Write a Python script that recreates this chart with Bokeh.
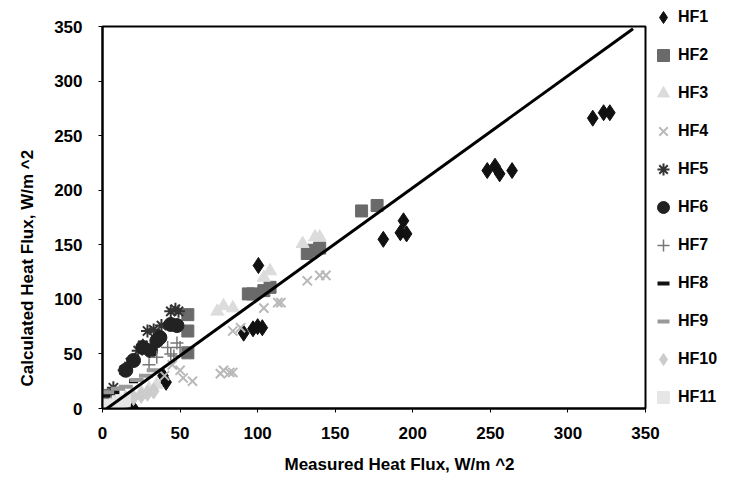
from bokeh.plotting import figure
from bokeh.models import Range1d, FixedTicker, Legend, LegendItem, Title
from bokeh.embed import file_html
from bokeh.resources import INLINE

# ---- data ----
series_names = ["HF1", "HF2", "HF3", "HF4", "HF5", "HF6", "HF7", "HF8", "HF9", "HF10", "HF11"]

hf1_x = [20, 39, 41, 91, 97, 100, 103, 100.5, 181, 192, 194, 196, 248, 253, 256, 264, 316, 323, 327]
hf1_y = [0, 30, 24, 69, 73, 75, 74, 131, 155, 161, 172, 160, 218, 222, 215, 218, 266, 271, 271]

hf2_x = [2, 55, 55, 55, 94, 97, 104, 108, 132, 136, 140, 167, 177]
hf2_y = [12, 51, 71, 86, 105, 105, 108, 111, 142, 145, 147, 181, 186]

hf3_x = [5, 15, 25, 30, 35, 74, 78, 84, 104, 108, 129, 137, 140]
hf3_y = [3, 10, 15, 18, 22, 89, 94, 92, 120, 126, 151, 157, 157]

hf4_x = [40, 45, 50, 52, 58, 76, 78, 82, 84, 84, 89, 104, 113, 115, 132, 140, 144]
hf4_y = [30, 40, 35, 28, 25, 32, 35, 33, 33, 71, 74, 92, 97, 97, 117, 122, 122]

hf5_x = [7, 14, 18, 23, 26, 29, 33, 38, 44, 47, 49]
hf5_y = [19, 35, 42, 53, 58, 71, 72, 76, 89, 91, 89]

hf6_x = [15, 20, 26, 31, 35, 37, 44, 48]
hf6_y = [35, 44, 56, 53, 62, 65, 77, 76]

hf7_x = [30, 35, 42, 44, 46, 48, 50]
hf7_y = [40, 47, 56, 50, 48, 60, 56]

hf8_x = [2, 5, 8, 20]
hf8_y = [12, 14, 15, 25]

hf9_x = [3, 10, 15, 22, 28, 33]
hf9_y = [15, 18, 20, 26, 30, 35]

hf10_x = [8, 15, 20, 25, 29, 33]
hf10_y = [5, 8, 10, 12, 14, 16]

hf11_x = [0, 2, 4, 6, 10, 14]
hf11_y = [0, 1, 3, 2, 5, 7]

line_x = [-3, 342]
line_y = [-6, 348]

ticks = [0, 50, 100, 150, 200, 250, 300, 350]

x_title = "Measured Heat Flux, W/m ^2"
y_title = "Calculated Heat Flux, W/m ^2"

FONT = "Liberation Sans"

p = figure(frame_width=543, frame_height=382, output_backend="svg", toolbar_location=None,
           x_range=Range1d(0, 350), y_range=Range1d(0, 350),
           min_border_left=102, min_border_right=84, min_border_top=26, min_border_bottom=78)

p.grid.visible = False
p.outline_line_color = "black"
p.outline_line_width = 2
p.background_fill_color = "white"
p.border_fill_color = "white"

for ax in (p.xaxis[0], p.yaxis[0]):
    ax.ticker = FixedTicker(ticks=ticks)
    ax.axis_line_width = 2
    ax.axis_line_color = "black"
    ax.major_tick_line_color = "black"
    ax.major_tick_out = 4
    ax.major_tick_in = 0
    ax.minor_tick_line_color = None
    ax.major_label_text_font = FONT
    ax.major_label_text_font_style = "bold"
    ax.major_label_text_font_size = "17px"
    ax.major_label_text_color = "black"

p.xaxis.major_label_standoff = 14
p.yaxis.major_label_standoff = 16

xt = Title(text=x_title, align="left", offset=182, standoff=23,
           text_font=FONT, text_font_style="bold", text_font_size="17px", text_color="black")
p.add_layout(xt, "below")
yt = Title(text=y_title, align="left", offset=22, standoff=29,
           text_font=FONT, text_font_style="bold", text_font_size="17px", text_color="black")
p.add_layout(yt, "left")

renderers = []
specs = [
    (hf1_x, hf1_y, "diamond", 16, "#111111", "#111111", 1),
    (hf2_x, hf2_y, "square", 12, "#6a6a6a", "#6a6a6a", 1),
    (hf3_x, hf3_y, "triangle", 13, "#dcdcdc", "#dcdcdc", 1),
    (hf4_x, hf4_y, "x", 13, None, "#b9b9b9", 2),
    (hf5_x, hf5_y, "asterisk", 13, None, "#333333", 2),
    (hf6_x, hf6_y, "circle", 14, "#222222", "#222222", 1),
    (hf7_x, hf7_y, "cross", 13, None, "#777777", 1.5),
    (hf8_x, hf8_y, "dash", 9, None, "#111111", 4),
    (hf9_x, hf9_y, "dash", 14, None, "#999999", 4),
    (hf10_x, hf10_y, "diamond", 16, "#cccccc", "#cccccc", 1),
    (hf11_x, hf11_y, "square", 12, "#e6e6e6", "#e6e6e6", 1),
]
for (xs, ys, mk, sz, fc, lc, lw) in specs:
    r = p.scatter(xs, ys, marker=mk, size=sz, fill_color=fc, line_color=lc, line_width=lw)
    renderers.append(r)

p.line(line_x, line_y, line_color="black", line_width=3)

items = [LegendItem(label=n, renderers=[r]) for n, r in zip(series_names, renderers)]
legend = Legend(items=items, location=(3, -4), orientation="vertical",
                glyph_width=30, glyph_height=30, spacing=8, padding=0, margin=0,
                label_standoff=0, label_text_font=FONT, label_text_font_style="bold",
                label_text_font_size="16px", label_text_color="black",
                border_line_alpha=0, background_fill_alpha=0)
p.add_layout(legend, "right")

open("out.html", "w").write(file_html(p, INLINE))
